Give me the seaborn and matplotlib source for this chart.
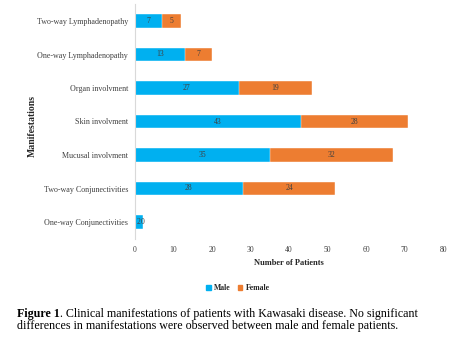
import matplotlib
matplotlib.use("Agg")
import matplotlib.pyplot as plt
import seaborn as sns
import pandas as pd
from matplotlib.patches import Patch

categories = ["Two-way Lymphadenopathy", "One-way Lymphadenopathy", "Organ involvment",
              "Skin involvment", "Mucusal involvment", "Two-way Conjunectivities",
              "One-way Conjunectivities"]
male = [7, 13, 27, 43, 35, 28, 2]
female = [5, 7, 19, 28, 32, 24, 0]
xticks = [0, 10, 20, 30, 40, 50, 60, 70, 80]

MALE_C = "#00B0F0"
FEMALE_C = "#ED7D31"

sns.set_theme(style="white")
plt.rcParams['font.family'] = ['Liberation Serif', 'DejaVu Serif']

df = pd.DataFrame({"cat": categories, "male": male, "female": female})
df["total"] = df["male"] + df["female"]

W, H = 465, 339
fig = plt.figure(figsize=(W / 100, H / 100), dpi=100)
ax = fig.add_axes([135 / W, 1 - 238.75 / H, (443 - 135) / W, (238.75 - 4.25) / H])

sns.barplot(data=df, x="total", y="cat", color=FEMALE_C, saturation=1, width=0.4,
            edgecolor="white", linewidth=0.3, ax=ax, orient="h")
sns.barplot(data=df, x="male", y="cat", color=MALE_C, saturation=1, width=0.4,
            edgecolor="white", linewidth=0.3, ax=ax, orient="h")

# labels centered on segments
for i, (m, f) in enumerate(zip(male, female)):
    ax.text(m / 2, i, str(m), ha="center", va="center", fontsize=5.5, color="#404040")
    ax.text(m + f / 2, i, str(f), ha="center", va="center", fontsize=5.5, color="#404040")

ax.set_xlim(0, 80)
ax.set_xticks(xticks)
ax.set_xticklabels([str(t) for t in xticks])
ax.set_ylim(6.5, -0.5)
for s in ["top", "right", "bottom"]:
    ax.spines[s].set_visible(False)
ax.spines["left"].set_color("#D9D9D9")
ax.spines["left"].set_linewidth(0.8)
ax.tick_params(axis="x", length=0, pad=5.5, labelsize=5.5, labelcolor="#404040")
ax.tick_params(axis="y", length=0, pad=5, labelsize=5.8, labelcolor="#404040")
ax.set_xlabel("Number of Patients", fontsize=6, fontweight="bold", color="#262626", labelpad=3)
ax.set_ylabel("")
fig.text(32 / W, 1 - 126 / H, "Manifestations", rotation=90, ha="center", va="center",
         fontsize=7, fontweight="bold", color="#262626")
ax.grid(False)

handles = [Patch(color=MALE_C, label="Male"), Patch(color=FEMALE_C, label="Female")]
fig.legend(handles=handles, loc="center", bbox_to_anchor=(238 / W, 1 - 288 / H), ncol=2,
           frameon=False, handlelength=0.6, handleheight=0.6,
           handletextpad=0.4, columnspacing=0.9, prop={"weight": "bold", "size": 5.6})

# caption
r = fig.canvas.get_renderer()
cs = 8.65
t1 = fig.text(17 / W, 1 - 317.5 / H, "Figure 1", fontsize=cs, fontweight="bold",
              ha="left", va="baseline", color="black")
bb = t1.get_window_extent(renderer=r)
fig.text(bb.x1 / W, 1 - 317.5 / H,
         ". Clinical manifestations of patients with Kawasaki disease. No significant",
         fontsize=cs, ha="left", va="baseline", color="black")
fig.text(17 / W, 1 - 329.5 / H,
         "differences in manifestations were observed between male and female patients.",
         fontsize=cs, ha="left", va="baseline", color="black")

fig.savefig("out.png", dpi=100)
